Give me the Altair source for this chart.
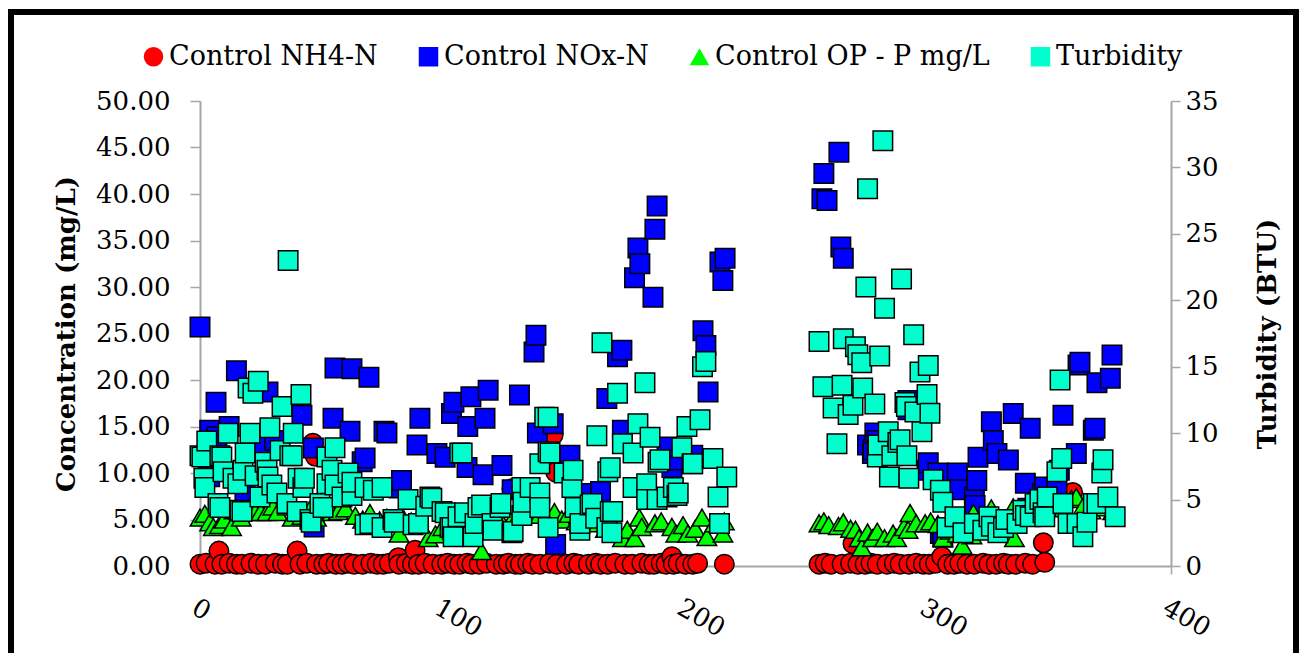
import altair as alt
import pandas as pd

series_names = ["Control NH4-N", "Control NOx-N", "Control OP - P mg/L", "Turbidity"]
series_colors = ["#FF0000", "#0000FF", "#00FF00", "#00FFCC"]
series_shapes = ["circle", "square", "triangle-up", "square"]

x_ticks = [0, 100, 200, 300, 400]
left_ticks = [0, 5, 10, 15, 20, 25, 30, 35, 40, 45, 50]
right_ticks = [0, 5, 10, 15, 20, 25, 30, 35]

# (day, mg/L)
nh4 = [(0,0.2),(2.5,0.3),(6.2,0.2),(7.8,1.6),(9,0.2),(12,0.3),(15,0.2),(17.2,0.2),(21,0.3),(24,0.2),
       (27,0.2),(31,0.3),(34,0.2),(36,0.2),(40,1.6),(41.2,0.2),(44,0.3),(46.5,13.2),(47.5,11.8),(48,0.2),
       (51,0.2),(53,0.3),(56,0.2),(58.5,0.2),(61,0.3),(63.5,0.2),(67,0.2),(70.4,0.3),(73,0.2),(75.5,0.2),
       (78,0.3),(81.7,0.9),(82,0.2),(85,0.3),(87.5,0.2),(88.6,1.7),(90,0.2),(92.7,0.3),(96,0.2),(99.6,0.2),
       (102,0.3),(104.7,0.2),(107,0.2),(110,0.3),(112,0.2),(115,0.2),(118,0.3),(122,0.2),(125,0.2),(127,0.3),
       (128.5,8.3),(130,0.2),(132,0.2),(135,0.3),(137,0.2),(140,0.2),(144,0.3),(145.5,14.1),(146.5,10.1),(147,0.2),
       (151,0.2),(154,0.3),(156,0.2),(160,0.2),(163,0.3),(165,0.2),(168,0.2),(171,0.3),(175,0.2),(178,0.2),
       (182,0.3),(185,0.2),(187,0.2),(190,0.3),(192,0.2),(194.4,1.0),(195,0.2),(197,0.3),(200,0.2),(203,0.2),
       (205,0.3),(216,0.2),(255,0.2),(257.5,0.3),(260,0.2),(264.5,0.2),(268,0.3),(269,2.4),(271,0.2),(274,0.2),
       (276.4,0.3),(279,0.2),(283,0.2),(286,0.3),(288.4,0.2),(292,0.2),(295,0.3),(298,0.2),(300.4,0.2),(303,0.3),
       (305.6,1.0),(308,0.2),(310.6,0.2),(313,0.3),(316,0.2),(319,0.2),(322.6,0.3),(325,0.2),(328,0.2),(331,0.3),
       (333,0.2),(336,0.2),(340,0.3),(343,0.2),(347.4,2.5),(348,0.4),(359.5,7.9)]

nox = [(0,25.7),(3.3,10.0),(4,9.6),(4,14.6),(6.6,17.6),(7,13.9),(12,15.0),(15,21.0),(18.5,7.8),(26,13.2),
       (28,18.7),(30.7,13.5),(42,16.2),(46.7,12.7),(47,4.2),(54.8,15.9),(55.6,21.3),(61.8,14.5),(62.6,21.2),(66.8,11.2),
       (68,11.6),(69.6,20.3),(75.8,14.5),(77,14.3),(82,8.4),(83,9.2),(89.4,13.0),(90.6,15.9),(97.6,12.1),(101,11.7),
       (103.6,16.4),(104.6,17.6),(110.3,15.0),(110,10.6),(111.6,18.2),(116.6,9.8),(117.4,15.9),(118.7,18.9),(124.4,10.8),(128.6,8.2),
       (131.6,18.4),(137.6,23.0),(138.4,24.8),(139,14.3),(145.5,15.3),(146.5,2.3),(152.4,11.9),(157,7.8),(165,8.0),(167.6,18.0),
       (172,22.5),(173.8,23.2),(174,14.6),(179,31.0),(180.4,34.2),(181.2,32.5),(186.6,28.9),(187.4,36.2),(188.3,38.7),(192.4,12.8),
       (194.4,10.6),(195,11.4),(203,11.9),(207.2,25.3),(208.4,23.7),(209.3,18.7),(214.2,32.7),(215.4,30.7),(216.3,33.1),
       (256.2,39.5),(257,42.2),(258.3,39.3),(263.2,44.5),(264,34.3),(265,33.1),(275,13.0),(277,12.1),(277.3,12.5),(278,14.3),
       (279,13.5),(291.6,17.8),(291.6,16.8),(299.5,10.3),(300,11.1),(304,10.0),(305,3.5),(306,3.1),(312,10.0),(313,8.2),
       (319,7.4),(319.3,6.5),(320,9.2),(320.5,11.7),(326,15.5),(326.8,13.5),(328.3,12.1),(333,11.4),(335,16.4),(340,8.9),
       (341,6.2),(342,14.8),(347,7.8),(348,8.5),(353,8.5),(354,10.3),(355.5,16.2),(361,12.1),(361.7,21.6),(362.5,21.9),
       (368,14.6),(368.7,14.8),(369.5,19.7),(375,20.2),(375.7,22.7)]

op = [(0,5.2),(2,5.6),(4,4.7),(5.5,4.2),(8,4.4),(10,5.0),(13,4.2),(14,6.0),(17,5.2),(20,6.2),
      (22.7,5.8),(25,5.8),(27.6,5.8),(30,6.4),(32,5.8),(36,6.4),(38,5.2),(42,5.4),(45,6.0),(48,5.2),
      (51,6.3),(54.4,5.8),(57,5.9),(60,6.2),(64,5.4),(67,5.0),(70,5.7),(74,4.9),(77,5.2),(80,4.6),
      (82,3.5),(84,5.0),(87,4.8),(90,5.2),(94,3.0),(97,3.4),(100,4.2),(104,4.5),(107,4.0),(110,3.3),
      (113,4.2),(116,1.6),(121,3.8),(125,4.4),(128,4.8),(131,5.3),(134,5.7),(137,6.0),(140,5.5),(144,5.2),
      (146,5.8),(149,5.0),(152,5.6),(155,4.8),(158,5.2),(161,5.5),(164,4.6),(167,4.0),(170,3.5),(174,3.0),
      (176,3.9),(179,3.0),(181,5.2),(182,4.2),(187.4,4.6),(190,4.8),(194.4,4.2),(196,3.5),(199,4.4),(201,3.5),
      (204,4.0),(206.8,5.2),(208.8,3.1),(212,4.6),(215.4,3.5),(216,4.8),
      (255,4.6),(257,4.8),(259,4.4),(263,4.3),(265,4.7),(268,4.0),(270,3.9),(271.5,3.0),(272.6,2.0),(275,3.6),
      (277,3.0),(279,3.7),(282,3.0),(285.5,3.5),(287,3.0),(290,4.2),(291.7,3.9),(292.5,5.7),(295,4.6),(298.7,4.6),
      (301,4.8),(304,4.5),(306,3.0),(309,3.8),(312,3.5),(314,2.2),(318,3.3),(318.6,5.7),(321,4.5),(324,5.3),
      (326,6.2),(329,5.0),(332,4.6),(335,6.3),(335.5,3.0),(338,5.2),(341,5.6),(344,6.0),(347,5.4),(350,6.6),
      (353,6.8),(356,6.2),(359,7.2),(361,7.4),(364,6.5),(367,6.0),(370,6.6),(373,6.3),(376,5.9)]

# (day, BTU)
turb = [(0,8.3),(0.8,8.2),(1.6,6.6),(2,5.9),(2.8,9.4),(7.4,4.7),(8.2,8.3),(8.2,4.4),(9,8.2),(9.5,7.1),
        (11.6,10.0),(13.6,6.6),(15.6,6.2),(16.5,4.2),(17.3,4.1),(17.7,7.2),(18.6,8.5),(19.8,13.4),(20.6,10.0),(21.8,13.0),
        (22.7,6.8),(24,13.9),(24.7,5.2),(26.8,7.8),(27.6,7.2),(28,6.7),(28.8,10.4),(29.6,6.1),(31.7,5.5),(33,8.7),
        (33.8,12.0),(35.8,4.7),(36.3,23.0),(37,8.3),(38,8.3),(38.4,10.0),(40,4.1),(40.4,6.6),(41.6,12.9),(42.4,5.9),
        (43,6.6),(45.3,3.5),(45.8,3.3),(49.4,4.7),(50.7,4.4),(52.3,6.2),(52.3,8.2),(54.4,7.2),(55.6,8.9),(55.6,6.1),
        (58.5,5.2),(61,7.0),(62.6,5.3),(62.6,6.3),(68,3.1),(68,5.9),(70,3.2),(71.4,5.7),(75,5.9),(75,2.9),
        (79.5,3.5),(80,3.3),(85.7,5.0),(87.8,3.1),(90,3.2),(93,4.5),(94.7,5.2),(95.5,5.1),(99.7,4.1),(101,4.0),
        (103,2.9),(103.8,2.9),(104.3,2.2),(106.3,3.7),(107,8.5),(108,8.5),(109,4.0),(112.5,2.2),(113.3,3.2),(114.5,4.4),
        (116,4.6),(120.3,3.2),(120.7,2.7),(123.6,4.4),(124,4.7),(128.5,2.5),(129,2.6),(132.6,5.9),(132.6,3.8),(133,4.8),
        (136,5.9),(140,5.5),(140,4.4),(140,7.7),(142,11.2),(143.4,11.2),(143.4,8.6),(143.4,2.9),(144.2,8.5),(150,7.0),
        (153.2,5.9),(153.7,7.2),(154.5,4.4),(156.5,2.7),(156.5,3.2),(160.7,4.6),(161.5,4.7),(163,3.6),(163.5,9.8),(165.6,16.8),
        (167.6,2.9),(168,7.1),(169,4.1),(169,7.4),(169.7,2.5),(170,4.1),(172,13.0),(174,9.2),(178.4,5.9),(178.4,8.5),
        (180.4,10.7),(183.3,13.8),(184,6.2),(184,5.0),(185.4,9.7),(188.3,5.0),(188.7,7.8),(189.5,8.0),(192.4,5.2),(195,5.9),
        (196.5,5.3),(197,5.5),(198.5,8.9),(200.6,10.5),(202.7,7.7),(203,7.7),(206,11.0),(207,15.0),(208.4,15.4),(211,8.1),
        (211.3,8.1),(213.4,5.2),(214,3.2),(217,6.7),
        (255,16.9),(256.6,13.5),(260.8,11.9),(262.4,9.2),(264.5,13.6),(265,17.1),(267,11.4),(269,12.1),(270,16.5),(271,15.9),
        (272.6,15.3),(273,13.4),(274.3,21.0),(275,28.4),(278,12.2),(279,8.2),(279.3,9.1),(280,15.8),(281.3,32.0),(282,19.4),
        (283.5,10.1),(284,6.7),(285,8.3),(287.5,9.3),(288.4,9.5),(289,21.6),(290.4,12.3),(291,12.0),(291.2,8.3),(292,6.6),
        (294,17.4),(294.5,11.6),(296.6,14.6),(297.4,10.1),(299.5,12.9),(300,15.1),(300.7,11.5),(302,6.5),(305,5.7),(306,4.8),
        (307.7,2.9),(311,3.7),(314.3,2.5),(319,3.2),(322.5,2.7),(325,3.7),(326,3.0),(328.7,2.5),(331,2.9),(332,3.5),
        (336.6,3.2),(339,4.2),(340,3.8),(342,3.7),(344,4.7),(346,5.0),(347.3,4.0),(348,3.7),(349,5.2),(353,7.1),
        (354.3,14.0),(355,8.1),(355.5,4.7),(357.6,3.2),(361.3,3.2),(363.7,2.2),(365.4,3.3),(368,4.7),(369.5,4.7),(371.5,7.0),
        (372,8.0),(374,5.2),(377,3.7)]

rows = []
for name, pts in [(series_names[0], nh4), (series_names[1], nox), (series_names[2], op)]:
    for d, v in pts:
        rows.append({"day": d, "value": v, "series": name})
left_df = pd.DataFrame(rows)
turb_df = pd.DataFrame({"day": [p[0] for p in turb], "turb": [p[1] for p in turb],
                        "series": [series_names[3]] * len(turb)})
one = pd.DataFrame({"k": [0]})

FONT = "DejaVu Serif"
AX_GRAY = "#A6A6A6"

legend = alt.Legend(
    title=None, orient="none", legendX=-60, legendY=-58, direction="horizontal",
    labelFont=FONT, labelFontSize=27, labelColor="black", labelLimit=500,
    labelOffset=2, columnPadding=37, symbolSize=380, symbolStrokeColor="black",
    symbolStrokeWidth=1.5, symbolOpacity=1, padding=0,
)
color = alt.Color("series:N", scale=alt.Scale(domain=series_names, range=series_colors), legend=legend)
shape = alt.Shape("series:N", scale=alt.Scale(domain=series_names, range=series_shapes), legend=legend)

x_enc = alt.X("day:Q", scale=alt.Scale(domain=[0, 400], nice=False, zero=False),
              axis=alt.Axis(values=x_ticks, format="d", title=None, labelAngle=30,
                            labelAlign="left", labelBaseline="top", labelPadding=20,
                            tickSize=8, grid=False))

left_layer = alt.Chart(left_df).mark_point(
    filled=True, size=380, stroke="black", strokeWidth=1.5, opacity=1
).encode(
    x=x_enc,
    y=alt.Y("value:Q", scale=alt.Scale(domain=[0, 50], nice=False),
            axis=alt.Axis(orient="left", values=left_ticks, format=".2f",
                          title="Concentration (mg/L)", tickSize=10, labelPadding=20,
                          titlePadding=16, grid=False)),
    color=color, shape=shape,
)

right_layer = alt.Chart(turb_df).mark_point(
    filled=True, size=380, stroke="black", strokeWidth=1.5, opacity=1
).encode(
    x=x_enc,
    y=alt.Y("turb:Q", scale=alt.Scale(domain=[0, 35], nice=False),
            axis=alt.Axis(orient="right", values=right_ticks, format="d",
                          title="Turbidity (BTU)", titleAngle=270, tickSize=9,
                          labelPadding=5, titlePadding=62, grid=False)),
    color=color, shape=shape,
)

frame_left = alt.Chart(one).mark_rule(color="black", strokeWidth=6).encode(
    x=alt.value(-189), y=alt.value(-92), y2=alt.value(552))
frame_top = alt.Chart(one).mark_rule(color="black", strokeWidth=6).encode(
    x=alt.value(-192), x2=alt.value(1099), y=alt.value(-89))
frame_right = alt.Chart(one).mark_rule(color="black", strokeWidth=6).encode(
    x=alt.value(1096), y=alt.value(-92), y2=alt.value(552))

chart = alt.layer(
    left_layer, right_layer, frame_left, frame_top, frame_right
).resolve_scale(y="independent").properties(
    width=971, height=465,
    padding={"left": 5, "top": 6, "right": 0, "bottom": 0},
    background="white",
).configure_view(stroke="transparent").configure_axis(
    labelFont=FONT, labelFontSize=26, labelColor="black",
    titleFont=FONT, titleFontSize=26, titleFontWeight="bold", titleColor="black",
    domainColor=AX_GRAY, domainWidth=2, tickColor=AX_GRAY, tickWidth=1.5,
)

chart.save("out.html", embed_options={"renderer": "svg", "actions": False})
